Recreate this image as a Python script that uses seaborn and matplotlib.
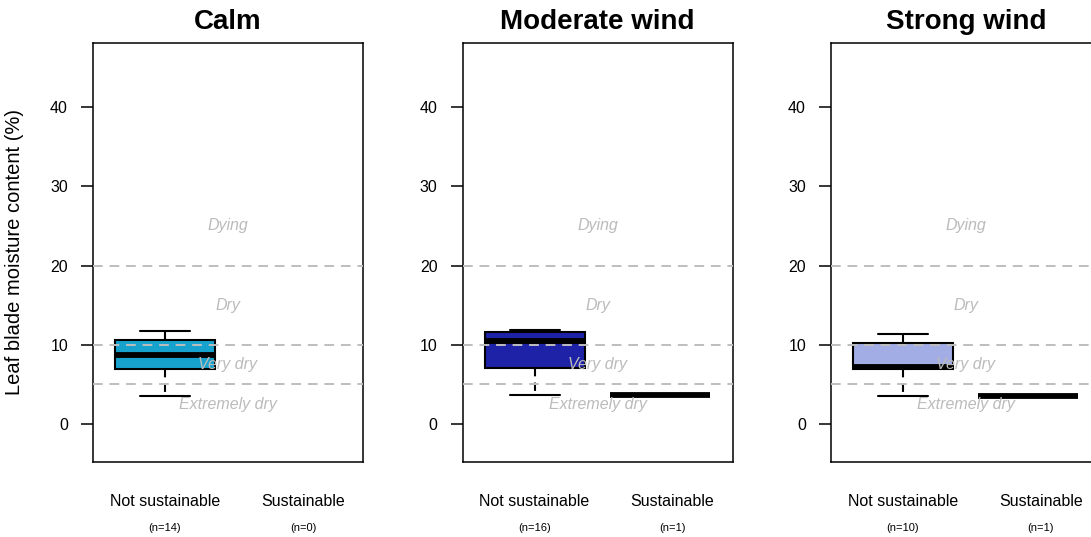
import numpy as np
import matplotlib.pyplot as plt
import matplotlib.transforms as mtransforms
import pandas as pd
import seaborn as sns

# Panels and groups
panels = ["Calm", "Moderate wind", "Strong wind"]
groups = ["Not sustainable", "Sustainable"]
panel_colors = ["#17A2CE", "#1E22A6", "#A2ADE5"]

# Sample sizes per panel (Not sustainable, Sustainable)
n_not = [14, 16, 10]
n_sus = [0, 1, 1]

# Five-number summaries (min, Q1, median, Q3, max)
calm_not = [3.5, 6.9, 8.7, 10.55, 11.7]
calm_sus = []
moderate_not = [3.6, 7.05, 10.5, 11.6, 11.8]
moderate_sus = [3.6]
strong_not = [3.55, 6.9, 7.2, 10.25, 11.3]
strong_sus = [3.55]

# Moisture zones
zone_lines = [5, 10, 20]
zone_names = ["Dying", "Dry", "Very dry", "Extremely dry"]
zone_label_y = [25, 15, 7.5, 2.5]

yticks = [0, 10, 20, 30, 40]

panel_values = [(calm_not, calm_sus), (moderate_not, moderate_sus), (strong_not, strong_sus)]

sns.set_style("white")
plt.rcParams["font.family"] = ["Liberation Sans", "DejaVu Sans"]
plt.rcParams["text.color"] = "black"
plt.rcParams["axes.labelcolor"] = "black"
plt.rcParams["ytick.color"] = "black"

fig = plt.figure(figsize=(10.91, 5.37), dpi=100)
lefts = [93 / 1091, 462.5 / 1091, 831 / 1091]
width = 270 / 1091
bottom = 75.5 / 537
height = 418.2 / 537

for i, name in enumerate(panels):
    ax = fig.add_axes([lefts[i], bottom, width, height])
    not_vals, sus_vals = panel_values[i]
    df = pd.DataFrame({
        "group": [groups[0]] * len(not_vals) + [groups[1]] * len(sus_vals),
        "value": not_vals + sus_vals,
    })
    sns.boxplot(
        data=df, x="group", y="value", order=groups, ax=ax,
        color=panel_colors[i], saturation=1, width=0.8,
        linecolor="black", linewidth=1.5, whis=1.5, showfliers=False,
        medianprops={"linewidth": 4.2, "solid_capstyle": "butt"},
        whiskerprops={"linestyle": (0, (4, 3))},
    )

    for yl in zone_lines:
        ax.axhline(yl, color="#BEBEBE", linestyle=(0, (5, 3.5)), linewidth=1.4, zorder=3)

    for lab, yv in zip(zone_names, zone_label_y):
        ax.text(0.5, yv, lab, transform=ax.get_yaxis_transform(), ha="center", va="center",
                fontsize=11.5, style="italic", color="#BBBBBB", zorder=4)

    ax.set_xlim(-0.576, 1.584)
    ax.set_ylim(-4.76, 48.08)
    ax.set_yticks(yticks)
    ax.set_xticks([])
    ax.set_xlabel("")
    ax.set_ylabel("")
    ax.tick_params(axis="y", left=True, length=9, width=1.1, pad=9, labelsize=11.5,
                   colors="black")
    for sp in ax.spines.values():
        sp.set_visible(True)
        sp.set_color("black")
        sp.set_linewidth(1.1)

    # Group labels below each panel
    trans = mtransforms.blended_transform_factory(ax.transData, ax.transAxes)
    label_x = [0, 1.104]
    counts = [n_not[i], n_sus[i]]
    for gx, g, n in zip(label_x, groups, counts):
        ax.text(gx, -0.0945, g, transform=trans, ha="center", va="center", fontsize=11.5)
        ax.text(gx, -0.159, f"(n={n})", transform=trans, ha="center", va="center", fontsize=8)

    ax.text(0.5, 1.052, name, transform=ax.transAxes, ha="center", va="center",
            fontsize=20, fontweight="bold", color="black")

    if i == 0:
        ax.set_ylabel("Leaf blade moisture content (%)", fontsize=14.5, color="black")
        ax.yaxis.set_label_coords(-0.255, 0.5)

fig.savefig("out.png", dpi=100)
